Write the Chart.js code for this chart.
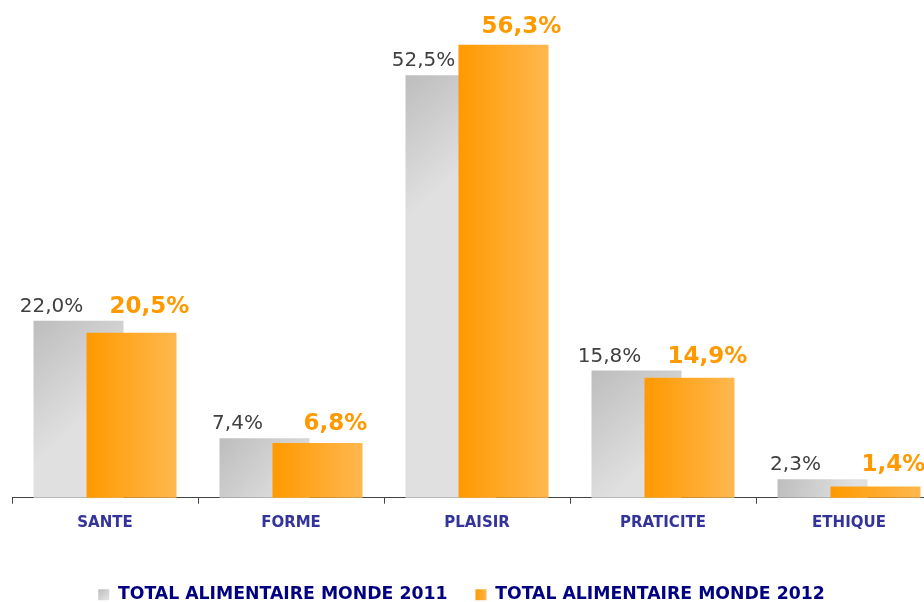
<!DOCTYPE html>
<html><head><meta charset="utf-8">
<script src="https://cdn.jsdelivr.net/npm/chart.js@4.4.1/dist/chart.umd.min.js"></script>
<style>html,body{margin:0;padding:0;background:#fff;overflow:hidden}#wrap{width:924px;height:602px;position:relative}</style>
</head><body><div id="wrap"><canvas id="c" width="924" height="602"></canvas></div>
<script>
const categories = ['SANTE', 'FORME', 'PLAISIR', 'PRATICITE', 'ETHIQUE'];
const series2011 = [22.0, 7.4, 52.5, 15.8, 2.3];
const series2012 = [20.5, 6.8, 56.3, 14.9, 1.4];
const seriesNames = ['TOTAL ALIMENTAIRE MONDE 2011', 'TOTAL ALIMENTAIRE MONDE 2012'];
const yMax = 60;

const fmt = v => v.toFixed(1).replace('.', ',') + '%';

function grayGrad(ctx, l, t, w, h) {
  const g = ctx.createLinearGradient(l, t, l + w * 0.8, t + Math.min(h, w * 0.9));
  g.addColorStop(0, '#bdbdbd');
  g.addColorStop(1, '#e0e0e0');
  return g;
}
function orangeGrad(ctx, l, t, w, h) {
  const g = ctx.createLinearGradient(l, 0, l + w, 0);
  g.addColorStop(0, '#ff9900');
  g.addColorStop(1, '#ffb84f');
  return g;
}

const extendPlugin = {
  id: 'extendX',
  afterLayout(chart) {
    const x = chart.scales.x;
    x.right = x.left + 930;
    x.width = 930;
    x.configure();
  }
};

// Draw gray series first (behind), orange on top, each bar with its own gradient
const drawPlugin = {
  id: 'orderedDraw',
  beforeDraw(chart) {
    const lg = chart.legend;
    if (!lg || !lg.legendHitBoxes) return;
    const ctx = chart.ctx;
    lg.legendItems.forEach((it, i) => {
      const hb = lg.legendHitBoxes[i];
      const bw = lg.options.labels.boxWidth, bh = lg.options.labels.boxHeight;
      const top = hb.top + (hb.height - bh) / 2;
      it.fillStyle = i === 0 ? grayGrad(ctx, hb.left, top, bw, bh) : orangeGrad(ctx, hb.left, top, bw, bh);
    });
  },
  beforeDatasetsDraw(chart) {
    const ctx = chart.ctx;
    [0, 1].forEach(di => {
      chart.getDatasetMeta(di).data.forEach(el => {
        const l = el.x - el.width / 2, t = el.y, h = el.base - el.y;
        el.options.backgroundColor = di === 0 ? grayGrad(ctx, l, t, el.width, h) : orangeGrad(ctx, l, t, el.width, h);
        el.draw(ctx);
      });
    });
    drawLabels(chart);
    return false;
  }
};

function drawLabels(chart) {
  const ctx = chart.ctx;
  const m0 = chart.getDatasetMeta(0).data;
  const m1 = chart.getDatasetMeta(1).data;
  ctx.save();
  ctx.textAlign = 'center';
  ctx.textBaseline = 'alphabetic';
  const grayBase = [];
  m0.forEach((el, i) => {
    ctx.font = '20px "DejaVu Sans"';
    ctx.fillStyle = '#404040';
    const y = el.y - 9;
    grayBase[i] = y;
    ctx.fillText(fmt(series2011[i]), el.x - 27, y);
  });
  m1.forEach((el, i) => {
    ctx.font = 'bold 23px "DejaVu Sans"';
    ctx.fillStyle = '#ff9900';
    const y = Math.min(el.y - 12, grayBase[i] + 1);
    ctx.fillText(fmt(series2012[i]), el.x + 18, y);
  });
  ctx.restore();
}

new Chart(document.getElementById('c'), {
  type: 'bar',
  data: {
    labels: categories,
    datasets: [
      { label: seriesNames[0], data: series2011, backgroundColor: '#d0d0d0', borderWidth: 0, clip: false },
      { label: seriesNames[1], data: series2012, backgroundColor: '#ffa526', borderWidth: 0, clip: false }
    ]
  },
  options: {
    responsive: false,
    animation: false,
    events: [],
    categoryPercentage: 0.57,
    barPercentage: 1.698,
    layout: { padding: { left: 12, right: 13, top: 15, bottom: -11.5 } },
    scales: {
      x: {
        z: 1,
        grid: { display: true, drawOnChartArea: false, drawTicks: true, tickLength: 6, color: '#444', offset: true },
        border: { display: true, color: '#444', width: 1 },
        ticks: { color: '#333399', font: { family: 'DejaVu Sans', size: 15, weight: 'bold' }, padding: 10, maxRotation: 0, autoSkip: false },
        afterFit(scale) { scale.height = 60.5; }
      },
      y: { display: false, min: 0, max: yMax }
    },
    plugins: {
      legend: {
        position: 'bottom',
        labels: { boxWidth: 11, boxHeight: 11, padding: 28, color: '#000080', font: { family: 'DejaVu Sans', size: 17.3, weight: 'bold' } }
      },
      tooltip: { enabled: false }
    }
  },
  plugins: [extendPlugin, drawPlugin]
});
</script></body></html>
